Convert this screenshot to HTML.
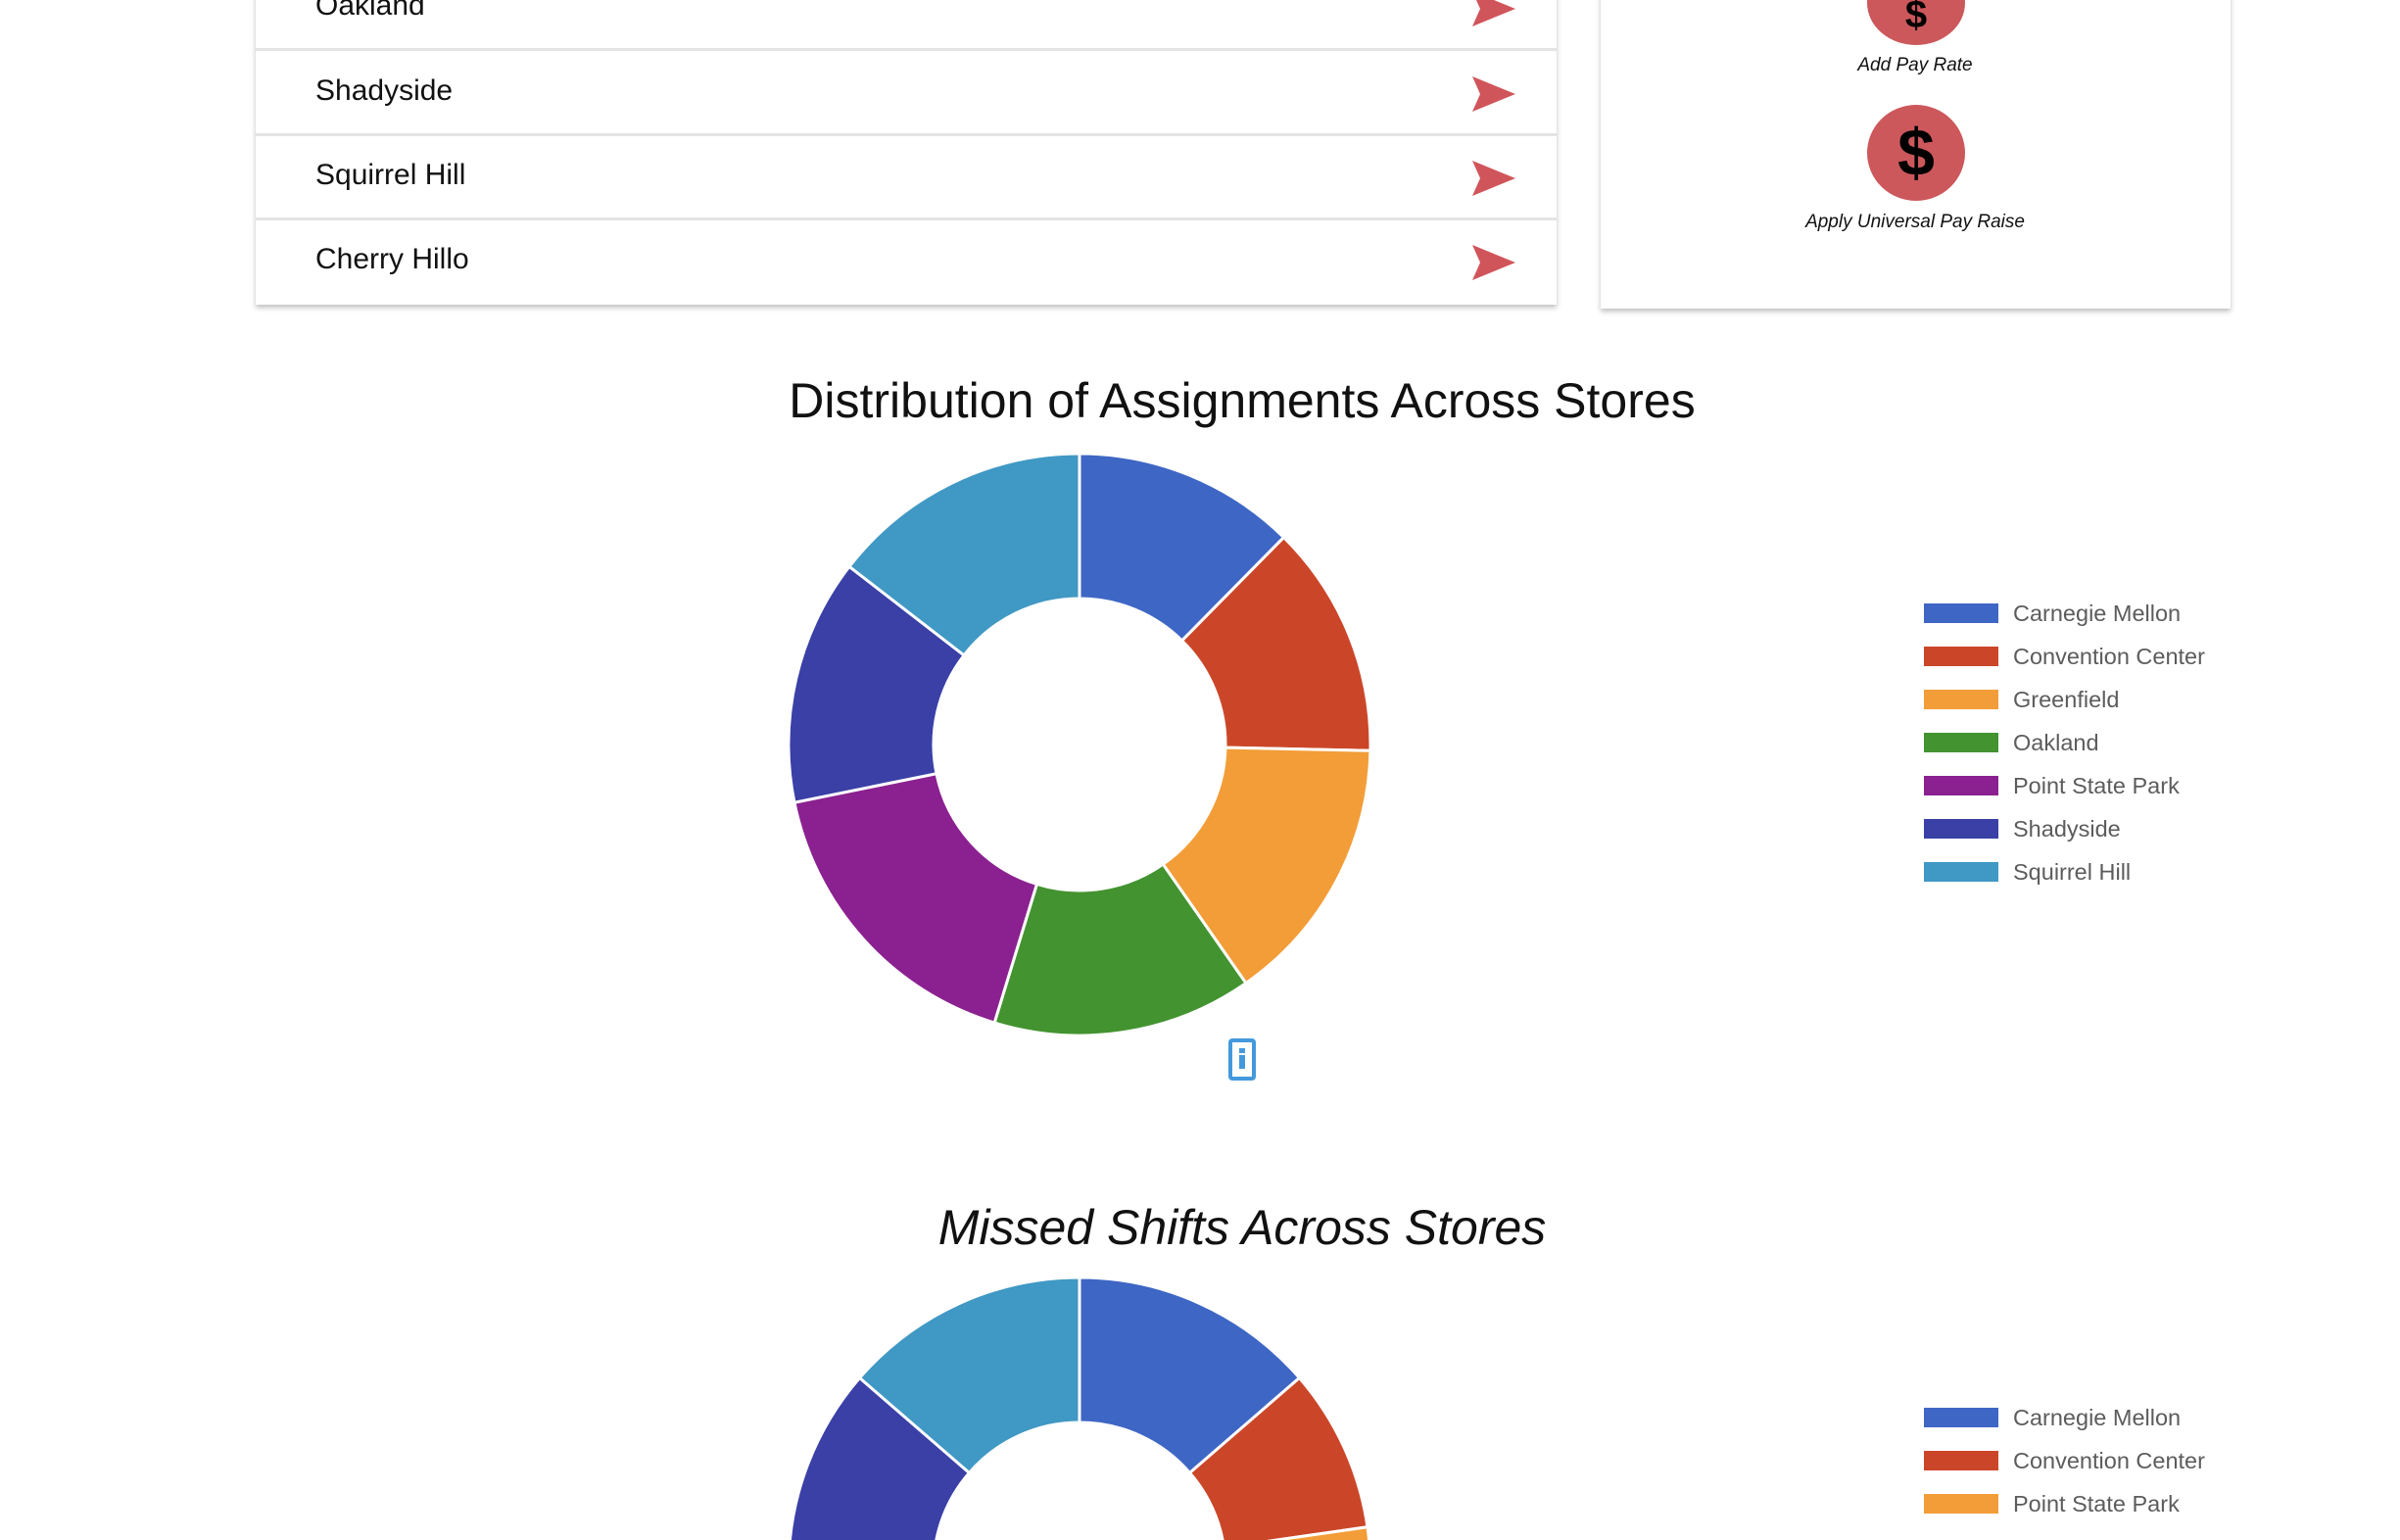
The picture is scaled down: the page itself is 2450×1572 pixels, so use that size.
<!DOCTYPE html>
<html><head><meta charset="utf-8"><style>
body{margin:0;width:2450px;height:1572px;overflow:hidden;background:#fff;font-family:"Liberation Sans",sans-serif;position:relative}
.card{position:absolute;background:#fff;box-shadow:0 3px 5px rgba(0,0,0,.25)}
.row{position:absolute;left:0;right:0;height:84px;border-bottom:3px solid #e4e4e4}
.row span{position:absolute;left:61px;top:24px;font-size:30px;color:#111}
.row svg{position:absolute;left:1242px;top:26px}
.lbl{position:absolute;font-style:italic;font-size:19px;color:#111;width:400px;text-align:center}
.title{position:absolute;left:0;width:2536px;text-align:center;font-size:50px;color:#111}
</style></head><body>
<div class="card" style="left:261px;top:-10px;width:1328px;height:321px">
 <div class="row" style="top:-25px"><span>Oakland</span><svg width="44" height="36" viewBox="0 0 44 36"><polygon points="0,0 44,18 0,36 8,18" fill="#d0555a"/></svg></div>
 <div class="row" style="top:62px"><span>Shadyside</span><svg width="44" height="36" viewBox="0 0 44 36"><polygon points="0,0 44,18 0,36 8,18" fill="#d0555a"/></svg></div>
 <div class="row" style="top:148px"><span>Squirrel Hill</span><svg width="44" height="36" viewBox="0 0 44 36"><polygon points="0,0 44,18 0,36 8,18" fill="#d0555a"/></svg></div>
 <div class="row" style="top:234px;border-bottom:none"><span>Cherry Hillo</span><svg width="44" height="36" viewBox="0 0 44 36"><polygon points="0,0 44,18 0,36 8,18" fill="#d0555a"/></svg></div>
</div>
<div class="card" style="left:1634px;top:-10px;width:643px;height:325px">
 <div style="position:absolute;left:272px;top:-30px;width:100px;height:86px;border-radius:50%;background:#cc585c;text-align:center;font:bold 40px 'Liberation Sans';line-height:110px;color:#000">$</div>
 <div class="lbl" style="left:121px;top:66px">Add Pay Rate</div>
 <div style="position:absolute;left:272px;top:117px;width:100px;height:98px;border-radius:50%;background:#cc585c;text-align:center;font:bold 68px 'Liberation Sans';line-height:98px;color:#000">$</div>
 <div class="lbl" style="left:121px;top:226px">Apply Universal Pay Raise</div>
</div>
<div class="title" style="top:380px">Distribution of Assignments Across Stores</div>
<div class="title" style="top:1224px;font-style:italic">Missed Shifts Across Stores</div>
<svg id="chart" width="2450" height="1572" style="position:absolute;left:0;top:0"></svg>
<div style="position:absolute;left:1254px;top:1060px;width:20px;height:35px;border:4px solid #4499dd;border-radius:4px;background:#fff">
 <div style="position:absolute;left:7px;top:6px;width:6px;height:5px;background:#4499dd"></div>
 <div style="position:absolute;left:7px;top:13px;width:6px;height:14px;background:#4499dd"></div>
</div>
<script>
const cats1=["Carnegie Mellon","Convention Center","Greenfield","Oakland","Point State Park","Shadyside","Squirrel Hill"];
const vals1=[44.6,46.6,53.9,51.9,61.5,49.2,52.3];
const cols1=["#3e66c4","#cb4628","#f29d38","#439330","#8b2190","#3a40a6","#4098c4"];
const cats2=["Carnegie Mellon","Convention Center","Point State Park","Shadyside","Squirrel Hill"];
const vals2=[3,2,9,5,3];
const cols2=["#3e66c4","#cb4628","#f29d38","#3a40a6","#4098c4"];
const svg=document.getElementById('chart');
const NS='http://www.w3.org/2000/svg';
function donut(cats,vals,cols,cx,cy,R,r,lx,ly,nLeg){
 const tot=vals.reduce((a,b)=>a+b,0);let a0=0;
 vals.forEach((v,i)=>{
  const a1=a0+v/tot*2*Math.PI;
  const p=(rad,a)=>[cx+rad*Math.sin(a),cy-rad*Math.cos(a)];
  const [x0,y0]=p(R,a0),[x1,y1]=p(R,a1),[x2,y2]=p(r,a1),[x3,y3]=p(r,a0);
  const lg=(a1-a0)>Math.PI?1:0;
  const el=document.createElementNS(NS,'path');
  el.setAttribute('d',`M${x0},${y0}A${R},${R} 0 ${lg} 1 ${x1},${y1}L${x2},${y2}A${r},${r} 0 ${lg} 0 ${x3},${y3}Z`);
  el.setAttribute('fill',cols[i]);el.setAttribute('stroke','#fff');el.setAttribute('stroke-width','3');
  
  
  svg.appendChild(el);a0=a1;
  if(i>=nLeg) return;
  const sw=document.createElementNS(NS,'rect');
  sw.setAttribute('x',lx);sw.setAttribute('y',ly+i*44);sw.setAttribute('width',76);sw.setAttribute('height',20);sw.setAttribute('fill',cols[i]);
  
  
  svg.appendChild(sw);
  const t=document.createElementNS(NS,'text');
  t.setAttribute('x',lx+91);t.setAttribute('y',ly+i*44+18);t.setAttribute('font-size','23.5');t.setAttribute('fill','#5c5c5c');t.setAttribute('font-family','Liberation Sans');
  t.textContent=cats[i];
  
  
  svg.appendChild(t);
 });
}
donut(cats1,vals1,cols1,1102,760,297,149,1964,616,7);
donut(cats2,vals2,cols2,1102,1601,297,149,1964,1437,3);
</script>
</body></html>
